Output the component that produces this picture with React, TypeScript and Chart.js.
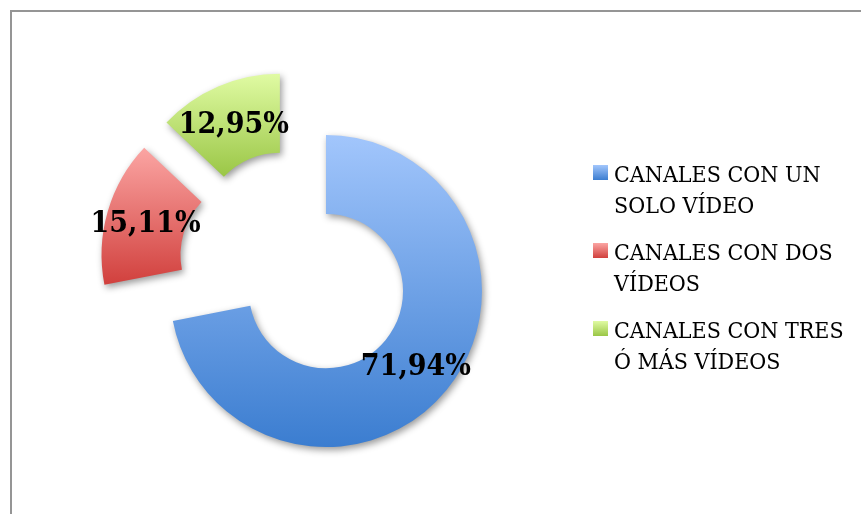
import React, { useEffect, useRef } from "react";
import { Chart, ArcElement, registerables } from "chart.js";

Chart.register(...registerables);

const categories = [
  "CANALES CON UN SOLO VÍDEO",
  "CANALES CON DOS VÍDEOS",
  "CANALES CON TRES Ó MÁS VÍDEOS",
];
const values = [71.94, 15.11, 12.95];
const valueLabels = ["71,94%", "15,11%", "12,95%"];
const gradientTop = ["#a2c6fc", "#fba5a3", "#e0fba3"];
const gradientBottom = ["#3b7dd0", "#d1403d", "#9ac646"];

const EXPLODE = 39.5;
const LABEL_FONT = "bold 30px 'DejaVu Serif', serif";
const LEGEND_FONT = "23px 'DejaVu Serif', serif";
const TEXT_SCALE_X = 0.9;

function wrapText(ctx: CanvasRenderingContext2D, text: string, maxWidth: number): string[] {
  const words = text.split(" ");
  const lines: string[] = [];
  let cur = "";
  for (const w of words) {
    const test = cur ? cur + " " + w : w;
    if (ctx.measureText(test).width * TEXT_SCALE_X > maxWidth && cur) {
      lines.push(cur);
      cur = w;
    } else {
      cur = test;
    }
  }
  if (cur) lines.push(cur);
  return lines;
}

function drawScaledText(ctx: CanvasRenderingContext2D, text: string, x: number, y: number) {
  ctx.save();
  ctx.translate(x, y);
  ctx.scale(TEXT_SCALE_X, 1);
  ctx.fillText(text, 0, 0);
  ctx.restore();
}

export default function App() {
  const ref = useRef<HTMLCanvasElement>(null);

  useEffect(() => {
    const canvas = ref.current!;

    const explodePlugin = {
      id: "explodeDraw",
      beforeDraw(chart: any) {
        const ctx = chart.ctx as CanvasRenderingContext2D;
        ctx.save();
        ctx.fillStyle = "#ffffff";
        ctx.fillRect(0, 0, chart.width, chart.height);
        ctx.fillStyle = "#959595";
        ctx.fillRect(10, 10, chart.width - 10, 2);
        ctx.fillRect(10, 10, 2, chart.height - 10);
        ctx.restore();
      },
      beforeDatasetDraw(chart: any, args: any) {
        const ctx = chart.ctx as CanvasRenderingContext2D;
        const meta = args.meta;
        meta.data.forEach((arc: any, i: number) => {
          const mid = (arc.startAngle + arc.endAngle) / 2;
          let minY = Infinity;
          let maxY = -Infinity;
          for (let k = 0; k <= 90; k++) {
            const a = arc.startAngle + ((arc.endAngle - arc.startAngle) * k) / 90;
            for (const r of [arc.innerRadius, arc.outerRadius]) {
              const y = arc.y + Math.sin(a) * r;
              minY = Math.min(minY, y);
              maxY = Math.max(maxY, y);
            }
          }
          const g = ctx.createLinearGradient(0, minY, 0, maxY);
          g.addColorStop(0, gradientTop[i % gradientTop.length]);
          g.addColorStop(1, gradientBottom[i % gradientBottom.length]);
          ctx.save();
          ctx.translate(Math.cos(mid) * EXPLODE, Math.sin(mid) * EXPLODE);
          ctx.shadowColor = "rgba(0,0,0,0.40)";
          ctx.shadowBlur = 7;
          ctx.shadowOffsetX = 2;
          ctx.shadowOffsetY = 3;
          const proxy = Object.create(arc);
          proxy.options = Object.assign({}, arc.options, {
            backgroundColor: g,
            offset: 0,
            borderWidth: 0,
          });
          (ArcElement.prototype as any).draw.call(proxy, ctx);
          ctx.restore();
        });
        return false;
      },
      afterDatasetsDraw(chart: any) {
        const ctx = chart.ctx as CanvasRenderingContext2D;
        const meta = chart.getDatasetMeta(0);
        ctx.save();
        ctx.font = LABEL_FONT;
        ctx.fillStyle = "#000000";
        ctx.textAlign = "center";
        ctx.textBaseline = "middle";
        meta.data.forEach((arc: any, i: number) => {
          const mid = (arc.startAngle + arc.endAngle) / 2;
          const r = EXPLODE + (arc.innerRadius + arc.outerRadius) / 2;
          drawScaledText(ctx, valueLabels[i], arc.x + Math.cos(mid) * r, arc.y + Math.sin(mid) * r + 2);
        });
        ctx.restore();
      },
      afterDraw(chart: any) {
        const ctx = chart.ctx as CanvasRenderingContext2D;
        ctx.save();
        ctx.font = LEGEND_FONT;
        ctx.fillStyle = "#000000";
        ctx.textAlign = "left";
        ctx.textBaseline = "alphabetic";
        const boxX = 593;
        const textX = 614;
        const lineH = 31;
        const gap = 16;
        let baseline = 182;
        categories.forEach((cat, i) => {
          const g = ctx.createLinearGradient(0, baseline - 17, 0, baseline - 2);
          g.addColorStop(0, gradientTop[i]);
          g.addColorStop(1, gradientBottom[i]);
          ctx.fillStyle = g;
          ctx.fillRect(boxX, baseline - 17, 15, 15);
          ctx.fillStyle = "#000000";
          const lines = wrapText(ctx, cat, 236);
          lines.forEach((ln, j) => {
            drawScaledText(ctx, ln, textX, baseline + j * lineH);
          });
          baseline += lines.length * lineH + gap;
        });
        ctx.restore();
      },
    };

    const chart = new Chart(canvas, {
      type: "doughnut",
      data: {
        labels: categories,
        datasets: [
          {
            data: values,
            backgroundColor: gradientBottom,
            borderWidth: 0,
            offset: 0,
          },
        ],
      },
      options: {
        responsive: false,
        animation: false,
        radius: 156,
        cutout: "49.4%",
        layout: { padding: { left: 139.5, right: 409.5, top: 110, bottom: 92 } },
        plugins: {
          legend: { display: false },
          tooltip: { enabled: false },
        },
        events: [],
      } as any,
      plugins: [explodePlugin],
    });

    return () => chart.destroy();
  }, []);

  return (
    <div style={{ position: "fixed", left: 0, top: 0, width: 861, height: 514, background: "#fff" }}>
      <canvas ref={ref} width={861} height={514} style={{ display: "block" }} />
    </div>
  );
}
